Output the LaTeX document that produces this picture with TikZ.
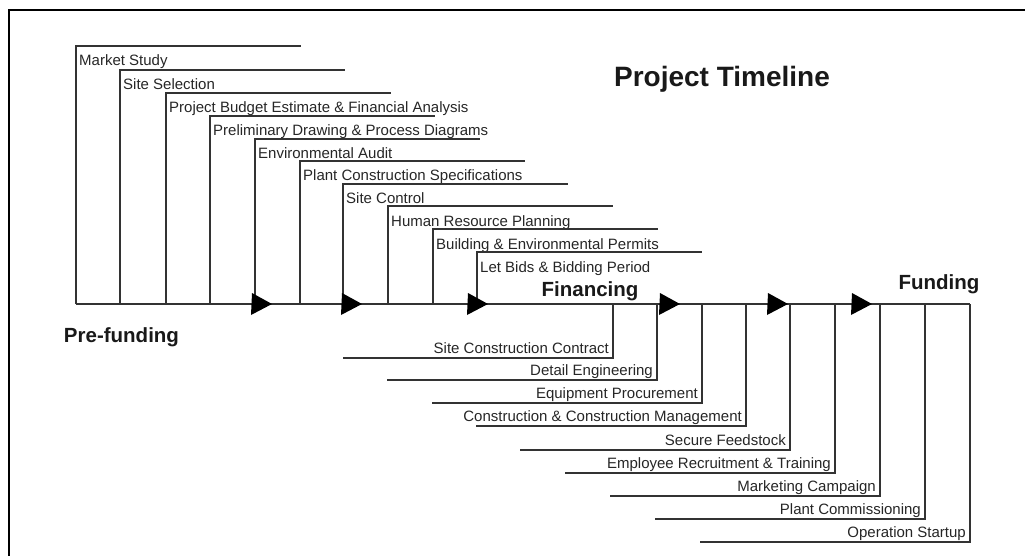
\documentclass[tikz,border=0pt]{standalone}
\usepackage{fontspec}
\setmainfont{Liberation Sans}
\begin{document}
\begin{tikzpicture}[x=1pt,y=-1pt,
  bar/.style={draw=black!80, line width=1.4pt},
  tasktxt/.style={inner sep=0pt, text=black!85, font=\fontsize{15}{18}\selectfont},
  phase/.style={inner sep=0pt, text=black!90, font=\fontsize{20.5}{24}\selectfont\bfseries},
  tip/.style={fill=black}]
\useasboundingbox (0,0) rectangle (1025,556);
% outer frame
\draw[line width=2.4pt, black] (9,556) -- (9,10) -- (1025,10);

% timeline
\coordinate (tlA) at (76,304);
\coordinate (tlB) at (970,304);
\draw[bar] (tlA) -- (tlB);

% tasks before funding: step from the timeline up and to the right
\foreach \px/\py/\lbl [count=\i] in {
  76/46/Market Study,
  120/70/Site Selection,
  166/93/Project Budget Estimate \& Financial Analysis,
  210/116/Preliminary Drawing \& Process Diagrams,
  255/139/Environmental Audit,
  300/161/Plant Construction Specifications,
  343/184/Site Control,
  388/206/Human Resource Planning,
  433/229/Building \& Environmental Permits,
  477/252/Let Bids \& Bidding Period}{
  \coordinate (up\i) at (\px,304);
  \coordinate (uc\i) at (\px,\py);
  \coordinate (ue\i) at (\px+225,\py);
  \draw[bar] (up\i) -- (uc\i) -- (ue\i);
  \node[tasktxt, anchor=base west] (ut\i) at (\px+3,\py+20) {\lbl};
}

% tasks after financing: step down from the timeline to the left
\foreach \px/\py/\lbl [count=\i] in {
  613/358/Site Construction Contract,
  657/380/Detail Engineering,
  702/403/Equipment Procurement,
  746/426/Construction \& Construction Management,
  790/450/Secure Feedstock,
  835/473/Employee Recruitment \& Training,
  880/496/Marketing Campaign,
  925/519/Plant Commissioning,
  970/542/Operation Startup}{
  \coordinate (dn\i) at (\px,304);
  \coordinate (dc\i) at (\px,\py);
  \coordinate (de\i) at (\px-270,\py);
  \draw[bar] (dn\i) -- (dc\i) -- (de\i);
  \node[tasktxt, anchor=base east] (dt\i) at (\px-4,\py-5) {\lbl};
}

% arrowheads on the timeline
\foreach \ax in {252,342,468,660,768,852}{
  \fill[tip] (\ax,293) -- (\ax+20,304) -- (\ax-1,315) -- cycle;
}

% headings
\node[inner sep=0pt, text=black!90, font=\fontsize{28}{32}\selectfont\bfseries, anchor=base] (title) at (722,87) {Project Timeline};
\node[phase, anchor=base] (pre) at (121.5,342) {Pre-funding};
\node[phase, anchor=base] (fin) at (590,296) {Financing};
\node[phase, anchor=base] (fund) at (939,289) {Funding};
\end{tikzpicture}
\end{document}
